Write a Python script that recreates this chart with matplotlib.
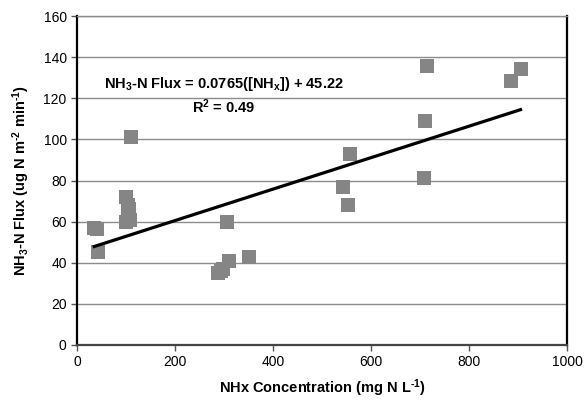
import matplotlib
matplotlib.use("Agg")
import matplotlib.pyplot as plt
import numpy as np

# data
conc = [35, 41, 43, 100, 103, 106, 99, 108, 103, 110,
        288, 293, 298, 305, 310, 350,
        543, 552, 558, 708, 711, 715, 885, 905]
flux = [57, 56.5, 45, 72, 68, 66, 60, 61, 63, 101,
        35, 36, 37, 60, 41, 43,
        77, 68, 93, 81, 109, 135.5, 128.5, 134]
slope = 0.0765
intercept = 45.22
x_ticks = [0, 200, 400, 600, 800, 1000]
y_ticks = [0, 20, 40, 60, 80, 100, 120, 140, 160]

plt.rcParams["font.family"] = ["Liberation Sans", "DejaVu Sans"]
plt.rcParams["mathtext.fontset"] = "custom"
plt.rcParams["mathtext.rm"] = "Liberation Sans:bold"
plt.rcParams["mathtext.bf"] = "Liberation Sans:bold"
plt.rcParams["mathtext.default"] = "bf"

fig = plt.figure(figsize=(5.84, 4.0), dpi=100)
ax = fig.add_axes([0.132, 0.1375, 0.839, 0.8225])

ax.plot(conc, flux, linestyle="none", marker="s", markersize=10,
        color="#858585", markeredgewidth=0, zorder=3)

fit_x = np.array([min(conc), max(conc)])
ax.plot(fit_x, slope * fit_x + intercept, color="black", lw=2.3, zorder=4)

ax.set_xlim(0, 1000)
ax.set_ylim(0, 160)
ax.set_xticks(x_ticks)
ax.set_yticks(y_ticks)
ax.yaxis.grid(True, color="#8c8c8c", lw=1)
ax.set_axisbelow(True)
ax.tick_params(direction="out", length=4, width=1, labelsize=10, color="#555555")

for side in ("left", "right"):
    ax.spines[side].set_linewidth(1.6)
    ax.spines[side].set_color("black")
ax.spines["bottom"].set_linewidth(1.6)
ax.spines["bottom"].set_color("#444444")
ax.spines["top"].set_linewidth(1)
ax.spines["top"].set_color("#8c8c8c")

ax.set_xlabel(r"NHx Concentration (mg N L$^{\text{-}1}$)", fontsize=10.5,
              fontweight="bold", labelpad=6)
ax.set_ylabel(r"NH$_3$-N Flux (ug N m$^{\text{-}2}$ min$^{\text{-}1}$)",
              fontsize=10.5, fontweight="bold", labelpad=8)

ax.text(300, 127, "NH$_3$-N Flux = 0.0765([NH$_x$]) + 45.22", ha="center",
        va="center", fontsize=10.5, fontweight="bold")
ax.text(300, 116, "R$^2$ = 0.49", ha="center", va="center", fontsize=10.5,
        fontweight="bold")

fig.savefig("out.png")
